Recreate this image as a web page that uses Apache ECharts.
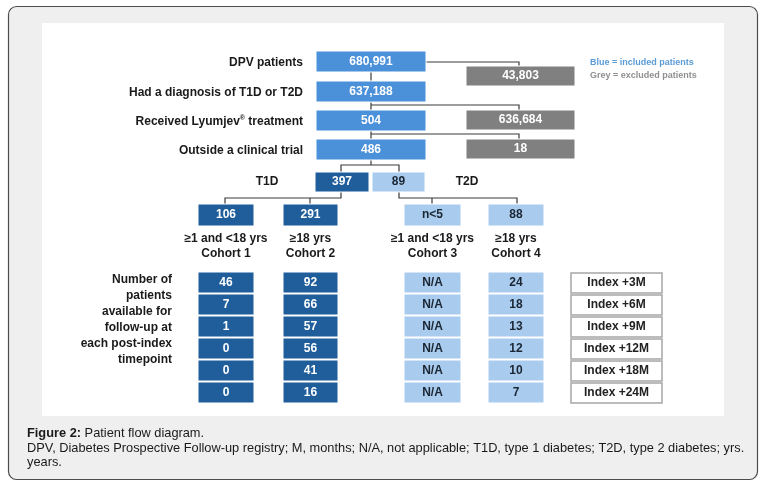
<!DOCTYPE html>
<html>
<head>
<meta charset="utf-8">
<script src="https://cdn.jsdelivr.net/npm/echarts@6/dist/echarts.min.js"></script>
<style>
html, body { margin: 0; padding: 0; background: #fff; }
#main { width: 770px; height: 488px; }
</style>
</head>
<body>
<div id="main"></div>
<script>
// ---- values ----
var stepLabels = ['DPV patients', 'Had a diagnosis of T1D or T2D', 'Received Lyumjev{sup|\u00ae} treatment', 'Outside a clinical trial'];
var includedCounts = [680991, 637188, 504, 486];
var excludedCounts = [43803, 636684, 18];
var typeNames = ['T1D', 'T2D'];
var typeCounts = [397, 89];
var cohortCounts = [106, 291, 'n<5', 88];
var cohortAges = ['\u22651 and <18 yrs', '\u226518 yrs', '\u22651 and <18 yrs', '\u226518 yrs'];
var cohortNames = ['Cohort 1', 'Cohort 2', 'Cohort 3', 'Cohort 4'];
var timepoints = ['Index +3M', 'Index +6M', 'Index +9M', 'Index +12M', 'Index +18M', 'Index +24M'];
var cohort1FollowUp = [46, 7, 1, 0, 0, 0];
var cohort2FollowUp = [92, 66, 57, 56, 41, 16];
var cohort3FollowUp = ['N/A', 'N/A', 'N/A', 'N/A', 'N/A', 'N/A'];
var cohort4FollowUp = [24, 18, 13, 12, 10, 7];
var followUpLabel = ['Number of', 'patients', 'available for', 'follow-up at', 'each post-index', 'timepoint'];
var legendTexts = ['Blue = included patients', 'Grey = excluded patients'];

// ---- layout (plot units = pixels) ----
var MAIN_X = [316, 426], EXCL_X = [466, 575];
var STEP_Y = [51, 81, 110, 139], STEP_H = 21;
var EXCL_Y = [66, 110, 139], EXCL_H = 20;
var TYPE_X = [[315, 369], [372, 425]], TYPE_Y = 172, TYPE_H = 20;
var COHORT_X = [[198, 254], [283, 338], [404, 461], [488, 544]], COHORT_Y = 204, COHORT_H = 22;
var ROW_Y0 = 272, ROW_STEP = 22;
var INDEX_X = [571, 662];

var C_MID = '#4a91da', C_DARK = '#1f5d9b', C_LIGHT = '#a8cbee', C_GREY = '#808080';
var FONT = '"Liberation Sans", Arial, sans-serif';

function fmt(v) { return typeof v === 'number' ? v.toLocaleString('en-US') : v; }

// boxes
var boxes = [];
function addBox(x0, y0, x1, y1, text, fill, color, stroke, lw) {
    boxes.push({ x0: x0, y0: y0, x1: x1, y1: y1, text: fmt(text), fill: fill, color: color, stroke: stroke || '#ffffff', lw: lw || 1 });
}
includedCounts.forEach(function (v, i) {
    addBox(MAIN_X[0], STEP_Y[i], MAIN_X[1], STEP_Y[i] + STEP_H, v, C_MID, '#fff');
});
excludedCounts.forEach(function (v, i) {
    addBox(EXCL_X[0], EXCL_Y[i], EXCL_X[1], EXCL_Y[i] + EXCL_H, v, C_GREY, '#fff');
});
typeCounts.forEach(function (v, i) {
    addBox(TYPE_X[i][0], TYPE_Y, TYPE_X[i][1], TYPE_Y + TYPE_H, v, i === 0 ? C_DARK : C_LIGHT, i === 0 ? '#fff' : '#1b2633');
});
cohortCounts.forEach(function (v, i) {
    var light = i >= 2;
    addBox(COHORT_X[i][0], COHORT_Y, COHORT_X[i][1], COHORT_Y + COHORT_H, v, light ? C_LIGHT : C_DARK, light ? '#1b2633' : '#fff');
});
[cohort1FollowUp, cohort2FollowUp, cohort3FollowUp, cohort4FollowUp].forEach(function (arr, c) {
    var light = c >= 2;
    arr.forEach(function (v, r) {
        var y = ROW_Y0 + r * ROW_STEP;
        addBox(COHORT_X[c][0], y, COHORT_X[c][1], y + ROW_STEP - 1, v, light ? C_LIGHT : C_DARK, light ? '#1b2633' : '#fff');
    });
});
timepoints.forEach(function (t, r) {
    var y = ROW_Y0 + r * ROW_STEP;
    addBox(INDEX_X[0], y + 1, INDEX_X[1], y + ROW_STEP - 1, t, '#ffffff', '#222', '#a6a6a6', 1.5);
});

// connector polylines
var connectors = [
    [[371, 72], [371, 165]],
    [[426, 62], [519, 62], [519, 66]],
    [[371, 105], [519, 105], [519, 110]],
    [[371, 134], [519, 134], [519, 139]],
    [[341, 172], [341, 165], [399, 165], [399, 172]],
    [[225, 204], [225, 198], [341, 198], [341, 192]],
    [[310, 198], [310, 204]],
    [[399, 192], [399, 198], [517, 198], [517, 204]],
    [[432, 198], [432, 204]]
];

// free labels
var labels = [];
function addLabel(x, y, text, align, size, color, weight) {
    labels.push({ x: x, y: y, text: text, align: align, size: size || 12, color: color || '#1a1a1a', weight: weight || 'bold' });
}
stepLabels.forEach(function (t, i) { addLabel(303, STEP_Y[i] + STEP_H / 2 + 1, t, 'right'); });
addLabel(267, 182, typeNames[0], 'center');
addLabel(467, 182, typeNames[1], 'center');
cohortAges.forEach(function (t, i) {
    var cx = (COHORT_X[i][0] + COHORT_X[i][1]) / 2;
    addLabel(cx, 239, t, 'center');
    addLabel(cx, 254, cohortNames[i], 'center');
});
followUpLabel.forEach(function (t, i) { addLabel(172, 280 + i * 16, t, 'right'); });
addLabel(590, 63, legendTexts[0], 'left', 9, '#5b9bd8');
addLabel(590, 76, legendTexts[1], 'left', 9, '#8f8f8f');

var myChart = echarts.init(document.getElementById('main'));
myChart.setOption({
    backgroundColor: '#ffffff',
    animation: false,
    grid: { left: 0, right: 0, top: 0, bottom: 0 },
    xAxis: { type: 'value', min: 0, max: 770, show: false },
    yAxis: { type: 'value', min: 0, max: 488, inverse: true, show: false },
    graphic: [
        { type: 'rect', z: -10, shape: { x: 8.5, y: 6.5, width: 749, height: 473, r: 8 },
          style: { fill: '#efefef', stroke: '#4d4d4d', lineWidth: 1.2 } },
        { type: 'rect', z: -9, shape: { x: 42, y: 23, width: 682, height: 393 },
          style: { fill: '#ffffff' } },
        { type: 'text', left: 27, top: 427,
          style: { text: '{b|Figure 2:} Patient flow diagram.', fill: '#1a1a1a',
                   font: '12.8px ' + FONT, rich: { b: { fontWeight: 'bold', fontSize: 12.8, fontFamily: FONT } } } },
        { type: 'text', left: 27, top: 442,
          style: { text: 'DPV, Diabetes Prospective Follow-up registry; M, months; N/A, not applicable; T1D, type 1 diabetes; T2D, type 2 diabetes; yrs.',
                   fill: '#1a1a1a', font: '12.8px ' + FONT } },
        { type: 'text', left: 27, top: 456,
          style: { text: 'years.', fill: '#1a1a1a', font: '12.8px ' + FONT } }
    ],
    series: [
        {
            type: 'custom', name: 'connectors', clip: false, z: 1,
            data: connectors.map(function (c, i) { return [c[0][0], c[0][1], i]; }),
            renderItem: function (params, api) {
                var pts = connectors[params.dataIndex].map(function (p) { return api.coord(p); });
                return { type: 'polyline', shape: { points: pts }, style: { stroke: '#3b3b3b', lineWidth: 1.2, fill: null } };
            }
        },
        {
            type: 'custom', name: 'boxes', clip: false, z: 2,
            data: boxes.map(function (b) { return [b.x0, b.y0, b.x1, b.y1]; }),
            renderItem: function (params, api) {
                var b = boxes[params.dataIndex];
                var p0 = api.coord([api.value(0), api.value(1)]);
                var p1 = api.coord([api.value(2), api.value(3)]);
                return {
                    type: 'rect',
                    shape: { x: p0[0], y: p0[1], width: p1[0] - p0[0], height: p1[1] - p0[1] },
                    style: { fill: b.fill, stroke: b.stroke, lineWidth: b.lw },
                    textContent: {
                        type: 'text',
                        style: { text: b.text, fill: b.color, fontSize: 12, fontWeight: 'bold', fontFamily: FONT }
                    },
                    textConfig: { position: 'inside' }
                };
            }
        },
        {
            type: 'custom', name: 'labels', clip: false, z: 3,
            data: labels.map(function (l) { return [l.x, l.y]; }),
            renderItem: function (params, api) {
                var l = labels[params.dataIndex];
                var p = api.coord([api.value(0), api.value(1)]);
                return {
                    type: 'text',
                    style: { x: p[0], y: p[1], text: l.text, fill: l.color, align: l.align, verticalAlign: 'middle',
                             fontSize: l.size, fontWeight: l.weight, fontFamily: FONT,
                             rich: { sup: { fontSize: 7, fontWeight: 'bold', fontFamily: FONT, fill: l.color, verticalAlign: 'top', padding: [0, 0, 6, 0] } } }
                };
            }
        }
    ]
});
</script>
</body>
</html>
